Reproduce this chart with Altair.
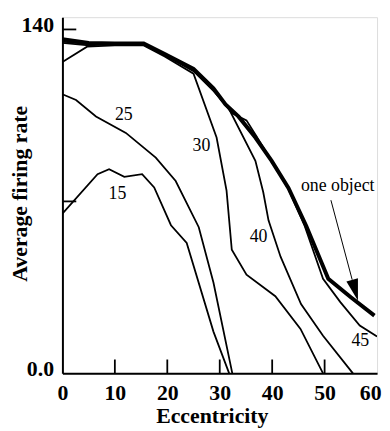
import altair as alt
import pandas as pd

# ---- data ----
one_x = [0, 5, 10, 15.5, 19.5, 25, 28.8, 31.1, 33.6, 36.8, 39.9, 43.1, 46.5, 50.7, 55, 59.5]
one_y = [136, 134.5, 134.3, 134.3, 130, 124, 116, 109.5, 104.5, 96, 86.5, 75.5, 60, 38.5, 31, 23.5]

c45_x = [0, 5, 10, 15.5, 19.5, 25, 28.8, 32.3, 35.1, 37, 40, 43.1, 46.2, 49.7, 53, 56.7, 60]
c45_y = [135, 134, 134, 134, 129.5, 123.5, 115.5, 106, 103, 96.5, 86, 75, 60, 38.5, 29, 19.5, 15]

c40_x = [0, 5, 10, 15.5, 19.5, 25, 28.8, 31.7, 36.8, 38.3, 39.3, 41.6, 45.5, 49.7, 55.4]
c40_y = [134.5, 133.5, 134, 134, 129.5, 123, 115, 107.9, 86.5, 73.7, 62.3, 47.5, 28.2, 15.3, 0]

c30_x = [0, 4.7, 10, 15.5, 19.5, 25, 29.4, 31.3, 32.3, 35.1, 40.6, 45.4, 49.7]
c30_y = [126.7, 133, 133.5, 133.5, 129, 122, 96, 74.4, 50.3, 40.2, 31.4, 18.1, 0]

c25_x = [0, 2.6, 6.4, 12.1, 17.8, 21.6, 26, 28.8, 32.4]
c25_y = [113.6, 111.3, 104.6, 97.9, 87.8, 78.3, 59.5, 37, 0]

c15_x = [0, 6.7, 8.9, 11.8, 15.2, 17.5, 20.7, 23.7, 28.8, 31.8]
c15_y = [65, 81.1, 83.1, 80, 81.1, 75.7, 60.3, 53.1, 17, 0]

label_text = ["15", "25", "30", "40", "45", "one object"]
label_x = [10.5, 11.7, 26.5, 37.4, 56.8, 52.5]
label_y = [73, 105.2, 92.5, 55.6, 13.1, 76.4]

x_tick_values = [0, 10, 20, 30, 40, 50, 60]
x_inner_ticks = [10, 20, 30, 40, 50]
y_inner_ticks = [70, 140]
y_label_values = [0, 140]

arrow_x, arrow_y, arrow_x2, arrow_y2 = [51.2], [70.5], [55.26], [38.1]
head_x, head_y = [55.81], [33.8]

# ---- build tables ----
def curve(name, xs, ys):
    return pd.DataFrame({"curve": name, "x": xs, "y": ys, "i": range(len(xs))})

thin = pd.concat([
    curve("45", c45_x, c45_y), curve("40", c40_x, c40_y), curve("30", c30_x, c30_y),
    curve("25", c25_x, c25_y), curve("15", c15_x, c15_y)])
thick = curve("one", one_x, one_y)
labels = pd.DataFrame({"t": label_text, "x": label_x, "y": label_y})

FONT = "Liberation Serif"
W, H = 318, 360
xs = alt.Scale(domain=[0, 60], nice=False, zero=False)
ys = alt.Scale(domain=[0, 145], nice=False)

x_axis = alt.Axis(values=x_tick_values, ticks=False, grid=False, title="Eccentricity",
                  labelFont=FONT, labelFontSize=22, labelFontWeight="bold", labelColor="black",
                  labelFlush=False, labelPadding=9, labelAngle=0,
                  labelAlign=alt.condition("datum.value == 60", alt.value("right"), alt.value("center")),
                  labelOffset=alt.condition("datum.value == 60", alt.value(4), alt.value(0)),
                  titleFont=FONT, titleFontSize=22, titleFontWeight="bold", titleColor="black",
                  titleX=151, titleY=43, titleAlign="center", titleBaseline="middle",
                  domainColor="black", domainWidth=2)
y_axis = alt.Axis(values=y_label_values, ticks=False, grid=False, title="Average firing rate",
                  labelExpr="datum.value == 0 ? '0.0' : format(datum.value, 'd')",
                  labelFont=FONT, labelFontSize=22, labelFontWeight="bold", labelColor="black",
                  labelPadding=9, labelOffset=-5, labelBaseline="middle",
                  titleFont=FONT, titleFontSize=22, titleFontWeight="bold", titleColor="black",
                  titleAngle=270, titleX=-43, titleY=178, titleAlign="center", titleBaseline="middle",
                  domainColor="black", domainWidth=2)

thin_lines = alt.Chart(thin).mark_line(color="black", strokeWidth=1.8, clip=True).encode(
    x=alt.X("x:Q", scale=xs, axis=x_axis),
    y=alt.Y("y:Q", scale=ys, axis=y_axis),
    detail="curve:N", order="i:Q")

thick_line = alt.Chart(thick).mark_line(color="black", strokeWidth=4, clip=True).encode(
    x=alt.X("x:Q", scale=xs), y=alt.Y("y:Q", scale=ys), order="i:Q")

xt = alt.Chart(pd.DataFrame({"v": x_inner_ticks})).mark_rule(color="black", strokeWidth=1.8).encode(
    x=alt.X("v:Q", scale=xs), y=alt.value(H), y2=alt.value(H - 14))
yt = alt.Chart(pd.DataFrame({"v": y_inner_ticks})).mark_rule(color="black", strokeWidth=1.8).encode(
    y=alt.Y("v:Q", scale=ys), x=alt.value(0), x2=alt.value(14))

txt = alt.Chart(labels).mark_text(font=FONT, fontSize=18, color="black").encode(
    x=alt.X("x:Q", scale=xs), y=alt.Y("y:Q", scale=ys), text="t:N")

arrow = alt.Chart(pd.DataFrame({"x": arrow_x, "y": arrow_y, "x2": arrow_x2, "y2": arrow_y2})).mark_rule(
    color="black", strokeWidth=1).encode(
    x=alt.X("x:Q", scale=xs), y=alt.Y("y:Q", scale=ys), x2="x2:Q", y2="y2:Q")
head = alt.Chart(pd.DataFrame({"x": head_x, "y": head_y})).mark_point(
    shape="M -0.55 -1 L 0.55 -1 L 0 1 Z", filled=True, color="black", opacity=1,
    size=484, angle=344.6, strokeWidth=0).encode(
    x=alt.X("x:Q", scale=xs), y=alt.Y("y:Q", scale=ys))

chart = alt.layer(thin_lines, thick_line, xt, yt, txt, arrow, head).properties(
    width=W, height=H,
    autosize="none",
    padding={"left": 55, "top": 7, "right": 5, "bottom": 56},
).configure_view(stroke="black", strokeWidth=1.5).configure(background="white")

chart.save("out.html", embed_options={"renderer": "svg", "actions": False})
